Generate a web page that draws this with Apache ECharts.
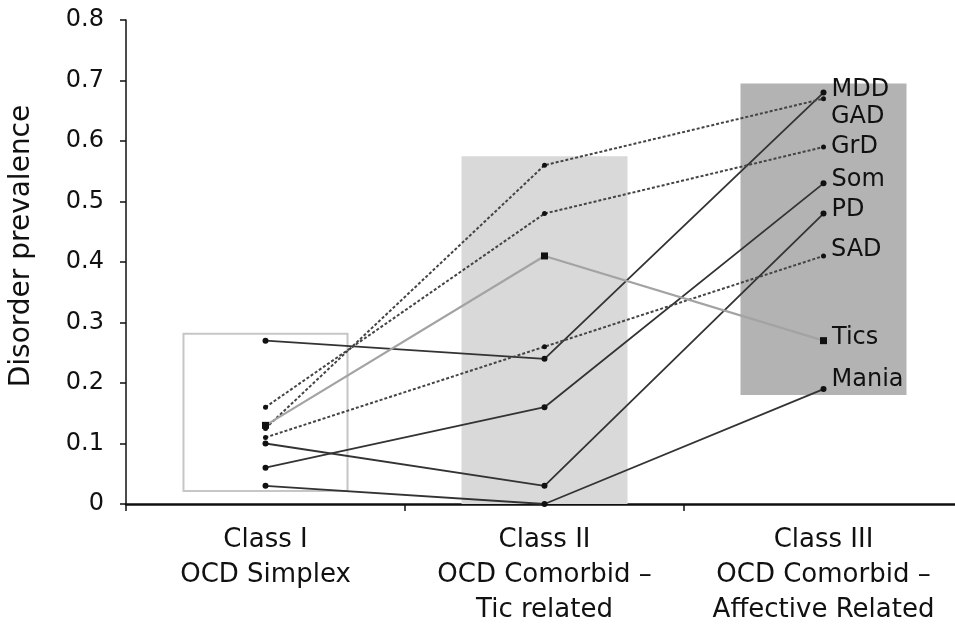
<!DOCTYPE html>
<html>
<head>
<meta charset="utf-8">
<script src="https://cdn.jsdelivr.net/npm/echarts@6/dist/echarts.min.js"></script>
<style>html,body{margin:0;padding:0;background:#fff;}#chart{width:955px;height:629px;}</style>
</head>
<body>
<div id="chart"></div>
<script>
// Categories (classes)
const categories = ['Class I\nOCD Simplex', 'Class II\nOCD Comorbid –\nTic related', 'Class III\nOCD Comorbid –\nAffective Related'];

// Shaded class boxes (prevalence range)
const boxBottom = [0.02, 0, 0.18];
const boxTop = [0.283, 0.575, 0.695];

// Disorder series
const seriesNames = ['MDD', 'GAD', 'GrD', 'Som', 'PD', 'SAD', 'Tics', 'Mania'];
const MDD   = [0.27, 0.24, 0.68];
const GAD   = [0.125, 0.56, 0.67];
const GrD   = [0.16, 0.48, 0.59];
const Som   = [0.06, 0.16, 0.53];
const PD    = [0.10, 0.03, 0.48];
const SAD   = [0.11, 0.26, 0.41];
const Tics  = [0.13, 0.41, 0.27];
const Mania = [0.03, 0.00, 0.19];
const seriesValues = [MDD, GAD, GrD, Som, PD, SAD, Tics, Mania];

// Y tick values
const yTicks = [0, 0.1, 0.2, 0.3, 0.4, 0.5, 0.6, 0.7, 0.8];

const styleMap = {
  MDD:   {kind: 'solid',  off: -3},
  GAD:   {kind: 'dashed', off: 18},
  GrD:   {kind: 'dashed', off: 0},
  Som:   {kind: 'solid',  off: -4},
  PD:    {kind: 'solid',  off: -4},
  SAD:   {kind: 'dashed', off: -6},
  Tics:  {kind: 'tics',   off: -3},
  Mania: {kind: 'solid',  off: -9}
};

const FONT = 'DejaVu Sans';

const boxStyles = [
  {color: '#ffffff', borderColor: '#c6c6c6', borderWidth: 2},
  {color: '#d9d9d9', borderWidth: 0},
  {color: '#b3b3b3', borderWidth: 0}
];

const series = [
  {
    type: 'bar', stack: 'box', barWidth: '59.5%', silent: true, z: 1,
    itemStyle: {color: 'transparent'},
    data: boxBottom
  },
  {
    type: 'bar', stack: 'box', barWidth: '59.5%', silent: true, z: 1,
    data: boxTop.map((t, i) => ({value: +(t - boxBottom[i]).toFixed(4), itemStyle: boxStyles[i]}))
  }
];

seriesNames.forEach((name, si) => {
  const st = styleMap[name];
  const vals = seriesValues[si];
  let lineStyle, symbol, symbolSize, itemColor;
  if (st.kind === 'solid') {
    lineStyle = {color: '#333333', width: 1.8, type: 'solid'};
    symbol = 'circle'; symbolSize = 6; itemColor = '#111';
  } else if (st.kind === 'dashed') {
    lineStyle = {color: '#444444', width: 2, type: [3, 2]};
    symbol = 'circle'; symbolSize = 5; itemColor = '#111';
  } else {
    lineStyle = {color: '#a3a3a3', width: 2.2, type: 'solid'};
    symbol = 'rect'; symbolSize = 7; itemColor = '#111';
  }
  series.push({
    name: name,
    type: 'line',
    z: 5,
    symbol: symbol,
    symbolSize: symbolSize,
    showSymbol: true,
    lineStyle: lineStyle,
    itemStyle: {color: itemColor},
    data: vals.map((v, i) => i === vals.length - 1 ? {
      value: v,
      label: {
        show: true, position: 'right', distance: 5,
        offset: [0, st.off],
        formatter: name,
        fontFamily: FONT, fontSize: 24, color: '#111'
      }
    } : v)
  });
});

const chart = echarts.init(document.getElementById('chart'));
chart.setOption({
  animation: false,
  backgroundColor: '#ffffff',
  grid: {left: 126, right: -8, top: 20, bottom: 125, containLabel: false, outerBoundsMode: 'none'},
  xAxis: {
    type: 'category',
    data: categories,
    boundaryGap: true,
    axisLine: {show: true, lineStyle: {color: '#111', width: 2.5}},
    axisTick: {show: true, length: 7, lineStyle: {color: '#111', width: 1.5}},
    axisLabel: {fontFamily: FONT, fontSize: 26, lineHeight: 35, color: '#111', margin: 19, interval: 0}
  },
  yAxis: {
    type: 'value',
    min: yTicks[0], max: yTicks[yTicks.length - 1], interval: 0.1,
    name: 'Disorder prevalence',
    nameLocation: 'middle',
    nameGap: 90,
    nameTextStyle: {fontFamily: FONT, fontSize: 28, color: '#111', padding: [0, 0, 0, 32]},
    axisLine: {show: true, lineStyle: {color: '#111', width: 1.5}},
    axisTick: {show: true, inside: false, length: 6, lineStyle: {color: '#111', width: 1.5}},
    splitLine: {show: false},
    axisLabel: {
      fontFamily: FONT, fontSize: 24, color: '#111', margin: 22,
      formatter: v => v === 0 ? '0' : v.toFixed(1)
    }
  },
  series: series
});
</script>
</body>
</html>
